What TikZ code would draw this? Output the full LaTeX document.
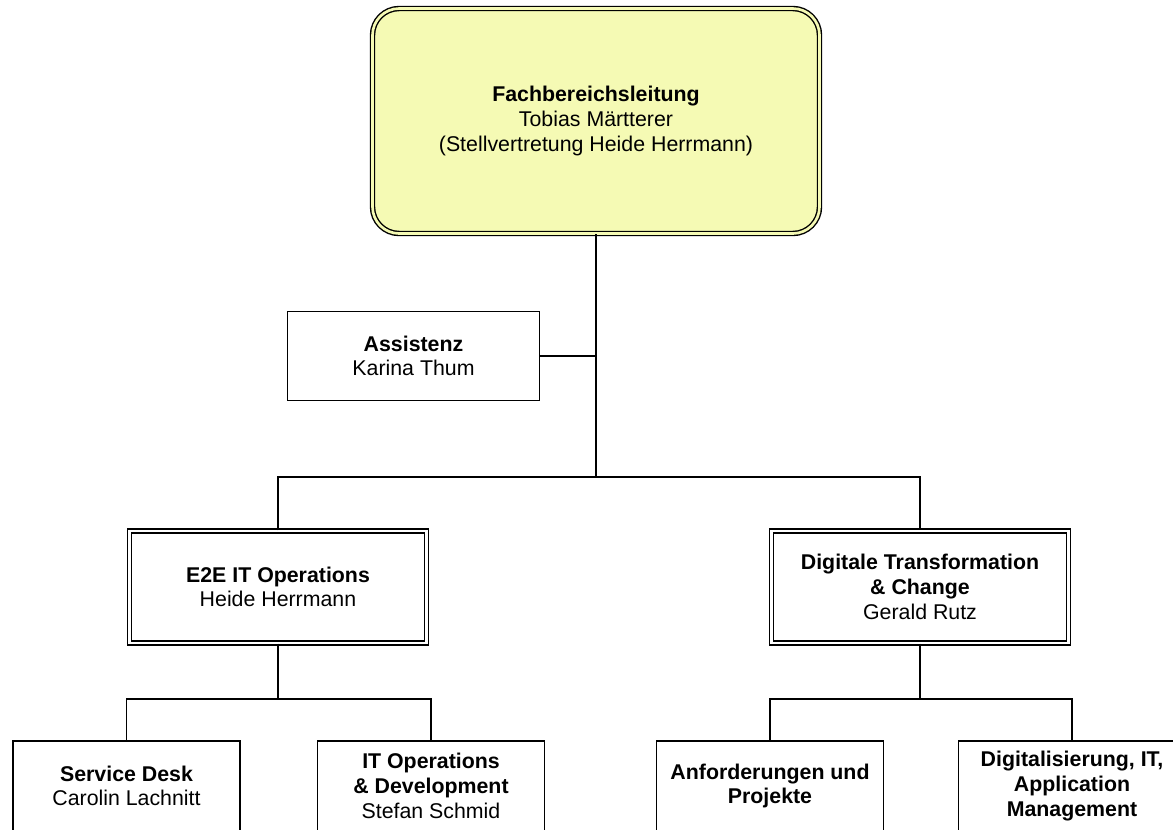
\documentclass[tikz,border=0pt]{standalone}
\usepackage{fontspec}
\setmainfont{Liberation Sans}
\definecolor{headyellow}{RGB}{245,250,180}
\tikzset{
  unitbox/.style={draw, line width=1.35pt, fill=white, align=center, inner sep=0pt,
    minimum width=170.25pt, minimum height=67.5pt, font=\fontsize{16}{18.5}\selectfont},
  leadbox/.style={unitbox, double, double distance=2pt, line width=1.05pt,
    minimum width=223pt, minimum height=84pt},
  headbox/.style={leadbox, rounded corners=20pt, fill=headyellow, double=headyellow,
    minimum width=335.25pt, minimum height=168.75pt},
  link/.style={line width=1.35pt},
}
\begin{document}
\begin{tikzpicture}[x=0.75pt,y=0.75pt,yscale=-1,xscale=1]
        \path [use as bounding box] (0,0) rectangle (1173,829);
        \clip (0,0) rectangle (1173,829);

        %Shape: Rounded Rect (head)
        \node [headbox] (head) at (596,121) {\textbf{Fachbereichsleitung}\\Tobias Märtterer\\(Stellvertretung Heide Herrmann)};
        %Shape: Rectangle (assistance)
        \node [unitbox, minimum width=189pt, minimum height=66.75pt] (assist) at (413.5,356) {\textbf{Assistenz}\\Karina Thum};

        %Shape: Double Rect (departments)
        \node [leadbox] (ops) at (278,587) {\textbf{E2E IT Operations}\\Heide Herrmann};
        \node [leadbox] (digi) at (920,587) {\textbf{Digitale Transformation}\\\textbf{\& Change}\\Gerald Rutz};

        %Shape: Rectangle (teams)
        \node [unitbox] (desk) at (126.5,786) {\textbf{Service Desk}\\Carolin Lachnitt};
        \node [unitbox] (dev) at (431,786) {\textbf{IT Operations}\\\textbf{\& Development}\\Stefan Schmid};
        \node [unitbox] (req) at (770,786) {\textbf{Anforderungen und}\\\textbf{Projekte}};
        \node [unitbox] (apps) at (1072,786) {\textbf{Digitalisierung, IT,}\\\textbf{Application}\\\textbf{Management}};

        % Junctions
        \coordinate (hub) at (596,477);
        \coordinate (opsbus) at (278,699);
        \coordinate (digibus) at (920,699);

        %Straight Lines
        \draw [link] (head.south) -- (hub);
        \draw [link] (assist.east) -- (assist.east -| hub);
        \draw [link] (ops.north) |- (hub) -| (digi.north);
        \draw [link] (ops.south) -- (opsbus);
        \draw [link] (desk.north) |- (opsbus) -| (dev.north);
        \draw [link] (digi.south) -- (digibus);
        \draw [link] (req.north) |- (digibus) -| (apps.north);
    \end{tikzpicture}
\end{document}
